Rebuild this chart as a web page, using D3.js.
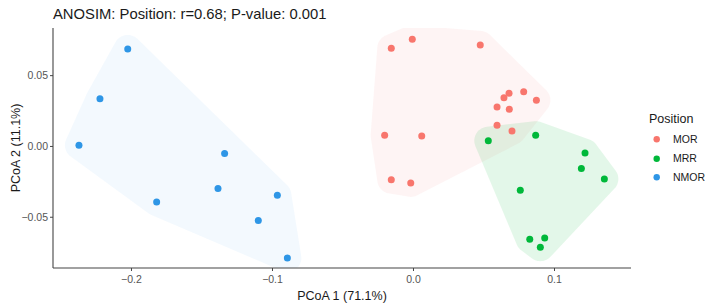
<!DOCTYPE html>
<html>
<head>
<meta charset="utf-8">
<script src="https://cdn.jsdelivr.net/npm/d3@7"></script>
<style>
  body { margin: 0; background: #fff; }
  text { font-family: "Liberation Sans", Arial, sans-serif; }
</style>
</head>
<body>
<div id="chart"></div>
<script>
// group names + colours
var groups = ["MOR", "MRR", "NMOR"];
var colors = ["#F8766D", "#00B83A", "#2E96E6"];

// PCoA coordinates
var morX = [-0.0154, -0.0005, 0.0477, 0.0645, 0.0681, 0.0785, 0.0875, 0.0596, 0.0683, 0.0596, 0.0702, -0.0201, 0.0062, -0.0154, -0.0016];
var morY = [0.0690, 0.0753, 0.0713, 0.0341, 0.0372, 0.0383, 0.0323, 0.0275, 0.0259, 0.0146, 0.0106, 0.0076, 0.0071, -0.0238, -0.0261];
var mrrX = [0.0534, 0.0870, 0.1220, 0.1194, 0.1357, 0.0761, 0.0828, 0.0934, 0.0903];
var mrrY = [0.0037, 0.0076, -0.0049, -0.0160, -0.0233, -0.0313, -0.0659, -0.0650, -0.0715];
var nmorX = [-0.2023, -0.2220, -0.2369, -0.1818, -0.1336, -0.1383, -0.0962, -0.1097, -0.0891];
var nmorY = [0.0685, 0.0334, 0.0005, -0.0395, -0.0054, -0.0301, -0.0348, -0.0527, -0.0791];

var xTicks = [-0.2, -0.1, 0.0, 0.1];
var yTicks = [-0.05, 0.00, 0.05];

var width = 709, height = 305;
var margin = {left: 53, right: 78, top: 28, bottom: 37};
var pw = width - margin.left - margin.right;
var ph = height - margin.top - margin.bottom;

var svg = d3.select("#chart").append("svg")
    .attr("width", width)
    .attr("height", height);

var x = d3.scaleLinear().domain([-0.2553, 0.1546]).range([0, pw]);
var y = d3.scaleLinear().domain([-0.0862, 0.0833]).range([ph, 0]);

var g = svg.append("g").attr("transform", "translate(" + margin.left + "," + margin.top + ")");

svg.append("defs").append("clipPath").attr("id", "panel")
    .append("rect").attr("width", pw).attr("height", ph);

var sets = [
    {name: groups[0], col: colors[0], xs: morX, ys: morY, op: 0.08},
    {name: groups[1], col: colors[1], xs: mrrX, ys: mrrY, op: 0.11},
    {name: groups[2], col: colors[2], xs: nmorX, ys: nmorY, op: 0.06}
];

// expanded hull: convex hull of little circles around each point
var r = 14;
var hullLayer = g.append("g").attr("clip-path", "url(#panel)");
sets.forEach(function(s) {
    var pts = [];
    s.xs.forEach(function(v, i) {
        var px = x(v), py = y(s.ys[i]);
        for (var k = 0; k < 60; k++) {
            var a = k / 60 * Math.PI * 2;
            pts.push([px + r * Math.cos(a), py + r * Math.sin(a)]);
        }
    });
    var hull = d3.polygonHull(pts);
    hullLayer.append("path")
        .attr("d", d3.line().curve(d3.curveLinearClosed)(hull))
        .attr("fill", s.col)
        .attr("fill-opacity", s.op)
        .attr("stroke", "none");
});

// points
sets.forEach(function(s) {
    g.append("g").selectAll("circle")
        .data(s.xs.map(function(v, i) { return [v, s.ys[i]]; }))
        .enter().append("circle")
        .attr("cx", function(d) { return x(d[0]); })
        .attr("cy", function(d) { return y(d[1]); })
        .attr("r", 3.5)
        .attr("fill", s.col);
});

// axes
var xAxis = g.append("g").attr("transform", "translate(0," + ph + ")")
    .call(d3.axisBottom(x).tickValues(xTicks).tickFormat(d3.format(".1f")).tickSizeOuter(0).tickSize(3));
var yAxis = g.append("g")
    .call(d3.axisLeft(y).tickValues(yTicks).tickFormat(d3.format(".2f")).tickSizeOuter(0).tickSize(3));

[xAxis, yAxis].forEach(function(a) {
    a.select(".domain").attr("stroke", "#444").attr("stroke-width", 1.1);
    a.selectAll(".tick line").attr("stroke", "#444");
    a.selectAll(".tick text").attr("fill", "#555").style("font-size", "10.5px")
        .style("font-family", "Liberation Sans, Arial, sans-serif");
});
xAxis.selectAll(".tick text").attr("dy", "0.9em");
yAxis.selectAll(".tick text").attr("x", -5);
// make sure the axis lines span the whole panel
yAxis.select(".domain").attr("d", "M0,0V" + ph);
xAxis.select(".domain").attr("d", "M0,0H" + pw);

// titles
svg.append("text")
    .attr("x", 53).attr("y", 19)
    .attr("fill", "#1a1a1a")
    .style("font-size", "14.8px")
    .text("ANOSIM: Position: r=0.68; P-value: 0.001");

svg.append("text")
    .attr("x", margin.left + pw / 2).attr("y", 300)
    .attr("text-anchor", "middle")
    .attr("fill", "#1a1a1a")
    .style("font-size", "12.5px")
    .text("PCoA 1 (71.1%)");

svg.append("text")
    .attr("transform", "translate(19.5," + (margin.top + ph / 2) + ") rotate(-90)")
    .attr("text-anchor", "middle")
    .attr("fill", "#1a1a1a")
    .style("font-size", "12.5px")
    .text("PCoA 2 (11.1%)");

// legend
var leg = svg.append("g");
leg.append("text").attr("x", 649).attr("y", 123)
    .attr("fill", "#1a1a1a").style("font-size", "12.5px").text("Position");
var ly = [139.3, 158.7, 177.3];
groups.forEach(function(name, i) {
    leg.append("circle").attr("cx", 656.7).attr("cy", ly[i]).attr("r", 3.2).attr("fill", colors[i]);
    leg.append("text").attr("x", 673).attr("y", ly[i]).attr("dy", "0.35em")
        .attr("fill", "#1a1a1a").style("font-size", "10.5px").text(name);
});
</script>
</body>
</html>
